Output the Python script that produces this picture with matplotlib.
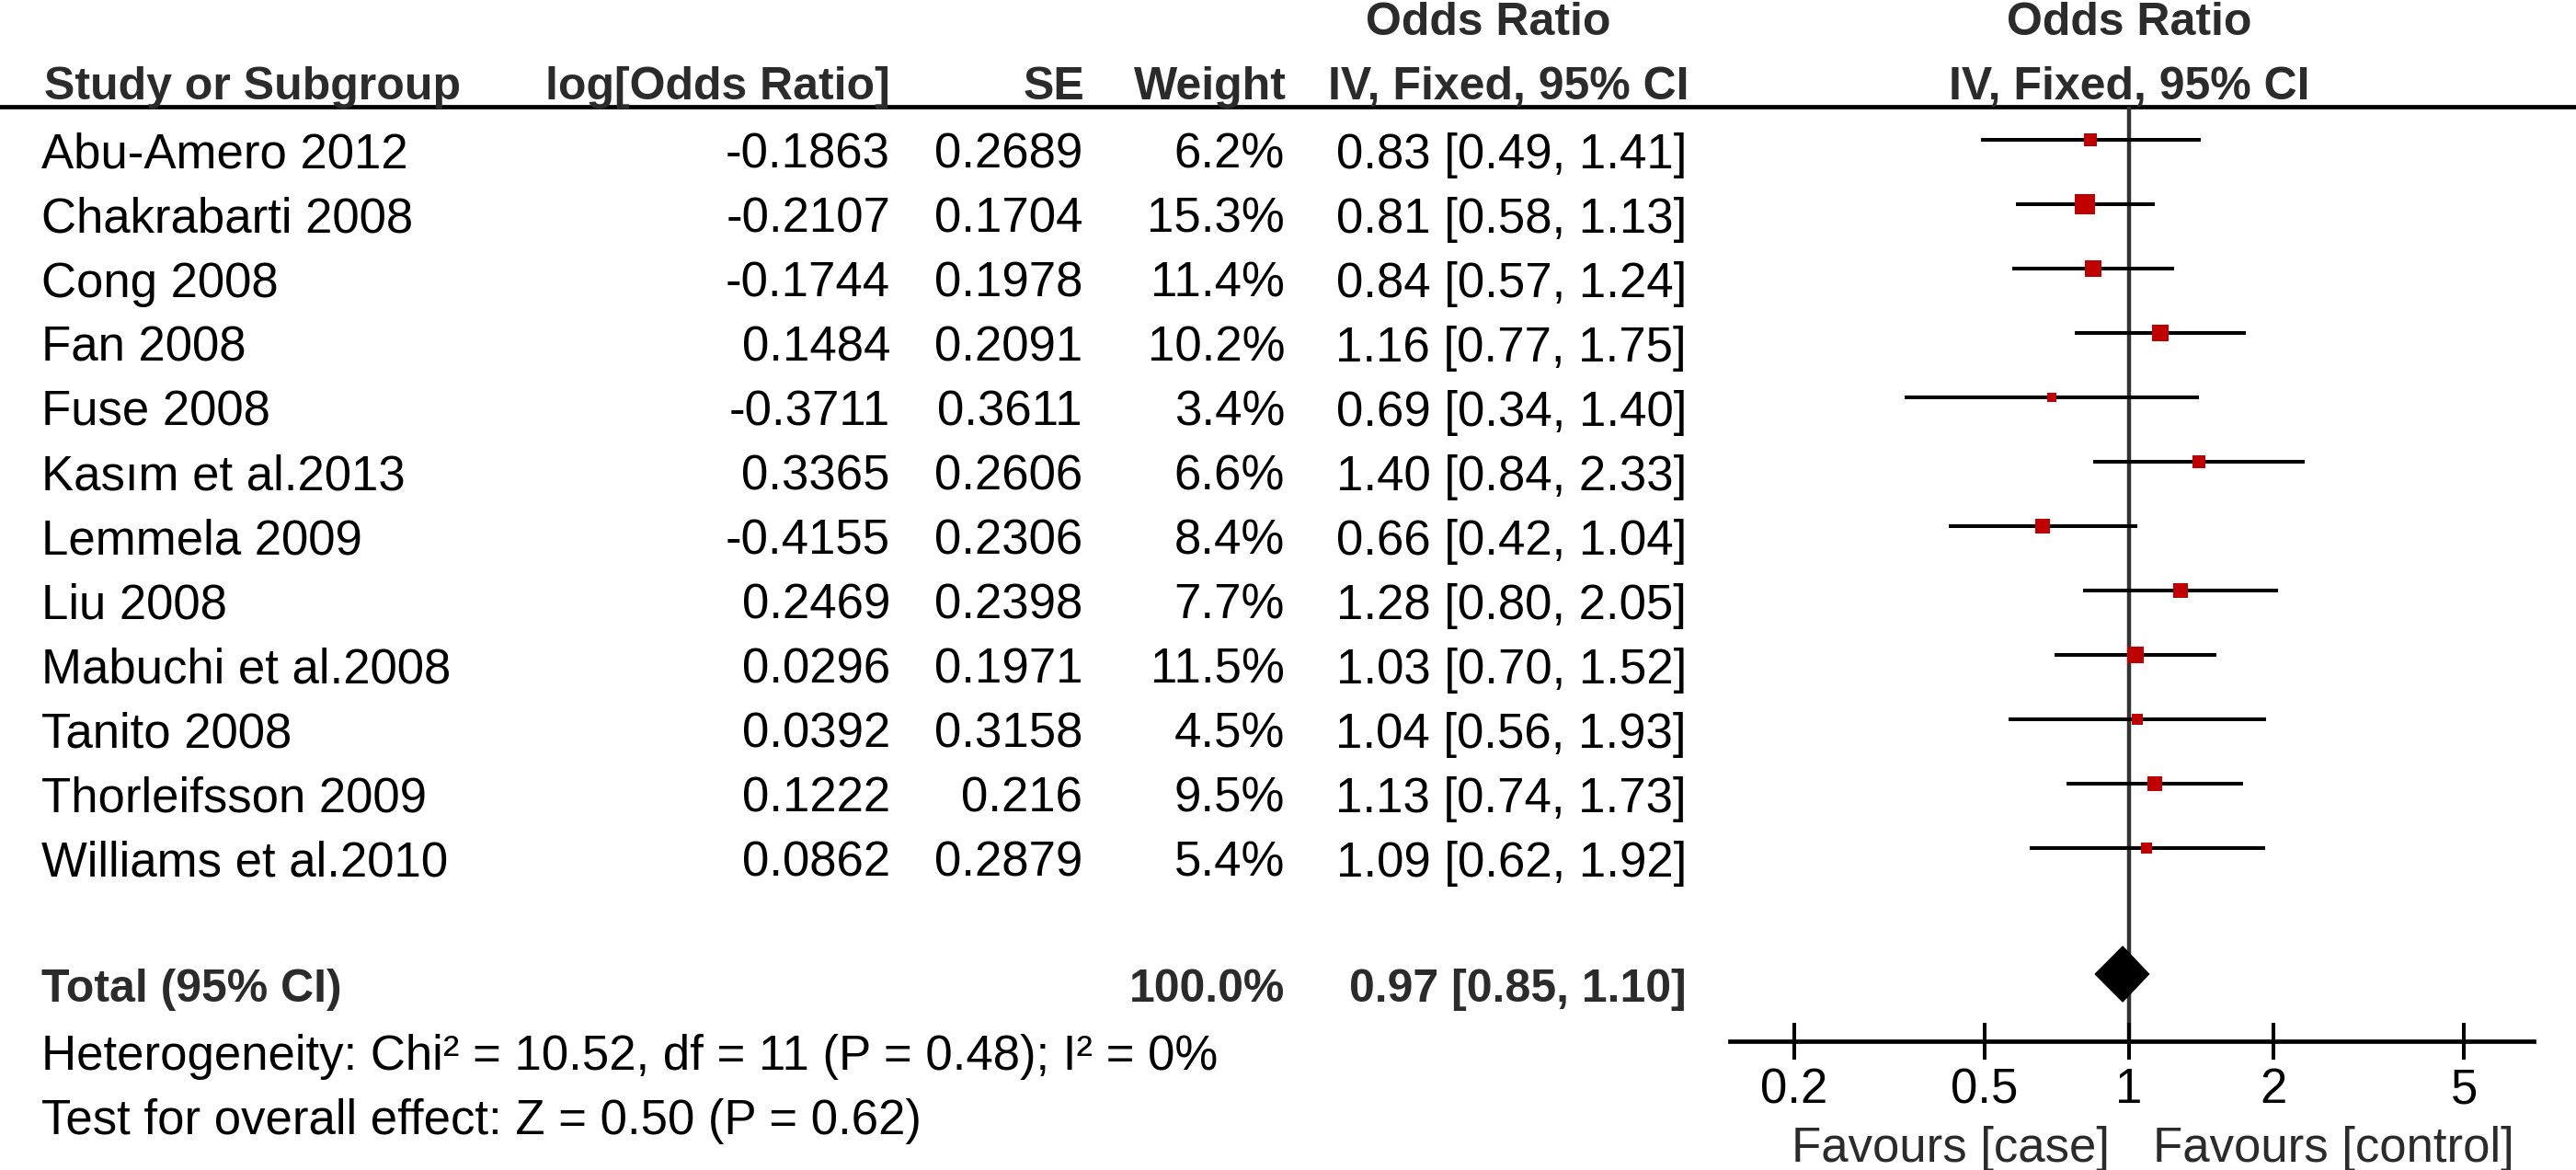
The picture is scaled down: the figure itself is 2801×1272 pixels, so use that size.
"""Forest plot: log odds ratios, fixed-effect (IV) meta-analysis, RevMan style."""
import matplotlib
matplotlib.use("Agg")
import matplotlib.pyplot as plt
import numpy as np

plt.rcParams["font.family"] = ["Liberation Sans", "DejaVu Sans"]

STUDIES = [
    "Abu-Amero 2012", "Chakrabarti 2008", "Cong 2008", "Fan 2008", "Fuse 2008",
    "Kasım et al.2013", "Lemmela 2009", "Liu 2008", "Mabuchi et al.2008",
    "Tanito 2008", "Thorleifsson 2009", "Williams et al.2010",
]
LOG_OR = [-0.1863, -0.2107, -0.1744, 0.1484, -0.3711, 0.3365, -0.4155, 0.2469,
          0.0296, 0.0392, 0.1222, 0.0862]
SE = [0.2689, 0.1704, 0.1978, 0.2091, 0.3611, 0.2606, 0.2306, 0.2398,
      0.1971, 0.3158, 0.216, 0.2879]
WEIGHT = [6.2, 15.3, 11.4, 10.2, 3.4, 6.6, 8.4, 7.7, 11.5, 4.5, 9.5, 5.4]
OR = [0.83, 0.81, 0.84, 1.16, 0.69, 1.40, 0.66, 1.28, 1.03, 1.04, 1.13, 1.09]
OR_LO = [0.49, 0.58, 0.57, 0.77, 0.34, 0.84, 0.42, 0.80, 0.70, 0.56, 0.74, 0.62]
OR_HI = [1.41, 1.13, 1.24, 1.75, 1.40, 2.33, 1.04, 2.05, 1.52, 1.93, 1.73, 1.92]

TOTAL_WEIGHT = 100.0
TOTAL_OR, TOTAL_LO, TOTAL_HI = 0.97, 0.85, 1.10
HETEROGENEITY = "Heterogeneity: Chi² = 10.52, df = 11 (P = 0.48); I² = 0%"
OVERALL = "Test for overall effect: Z = 0.50 (P = 0.62)"

TICKS = [0.2, 0.5, 1, 2, 5]
TICK_LABELS = ["0.2", "0.5", "1", "2", "5"]
FAV_LEFT, FAV_RIGHT = "Favours [case]", "Favours [control]"

W, H = 2801, 1272
PX = 72 / 100  # points per pixel at dpi 100
HEAD = "#2b2b2b"
RED = "#c00000"
FS, FSB = 38, 36

# layout (pixels)
ROW0, ROW_STEP = 151.7, 70.0
TOTAL_Y = 1059
AX_LEFT, AX_RIGHT, X_ONE, DECADE = 1881, 2755, 2315, 521
AXIS_Y = 1131.5


def main():
    fig = plt.figure(figsize=(W / 100, H / 100), dpi=100)
    ax = fig.add_axes([0, 0, 1, 1])
    ax.set_xlim(0, W)
    ax.set_ylim(H, 0)
    ax.axis("off")

    # headers
    hb = dict(fontsize=FSB, fontweight="bold", color=HEAD, va="baseline")
    ax.text(1618, 38, "Odds Ratio", ha="center", **hb)
    ax.text(X_ONE, 38, "Odds Ratio", ha="center", **hb)
    ax.text(48, 108, "Study or Subgroup", ha="left", **hb)
    ax.text(968, 108, "log[Odds Ratio]", ha="right", **hb)
    ax.text(1179, 108, "SE", ha="right", **hb)
    ax.text(1399, 108, "Weight", ha="right", **hb)
    ax.text(1836, 108, "IV, Fixed, 95% CI", ha="right", **hb)
    ax.text(X_ONE, 108, "IV, Fixed, 95% CI", ha="center", **hb)
    ax.axhline(116, color="black", lw=3.4)

    rows_y = ROW0 + ROW_STEP * np.arange(len(STUDIES))
    tr = dict(fontsize=FS, color="black", va="baseline")
    for i, y in enumerate(rows_y):
        b = y + 31
        ax.text(45, b, STUDIES[i], ha="left", **tr)
        ax.text(968, b, f"{LOG_OR[i]:g}", ha="right", **tr)
        ax.text(1177, b, f"{SE[i]:g}", ha="right", **tr)
        ax.text(1397, b, f"{WEIGHT[i]:.1f}%", ha="right", **tr)
        ax.text(1834, b, f"{OR[i]:.2f} [{OR_LO[i]:.2f}, {OR_HI[i]:.2f}]", ha="right", **tr)

    # total row
    ax.text(45, 1089, "Total (95% CI)", ha="left", **hb)
    ax.text(1397, 1089, f"{TOTAL_WEIGHT:.1f}%", ha="right", **hb)
    ax.text(1834, 1089, f"{TOTAL_OR:.2f} [{TOTAL_LO:.2f}, {TOTAL_HI:.2f}]", ha="right", **hb)
    ax.text(45, 1163, HETEROGENEITY, ha="left", **tr)
    ax.text(45, 1233, OVERALL, ha="left", **tr)

    # forest panel
    fx = fig.add_axes([AX_LEFT / W, 0, (AX_RIGHT - AX_LEFT) / W, 1])
    fx.patch.set_alpha(0)
    fx.set_xscale("log")
    fx.set_xlim(10 ** ((AX_LEFT - X_ONE) / DECADE), 10 ** ((AX_RIGHT - X_ONE) / DECADE))
    fx.set_ylim(H, 0)
    for s in ("top", "left", "right"):
        fx.spines[s].set_visible(False)
    fx.spines["bottom"].set_position(("data", AXIS_Y))
    fx.spines["bottom"].set_linewidth(3.4)
    fx.set_yticks([])
    fx.set_xticks(TICKS)
    fx.xaxis.set_minor_locator(matplotlib.ticker.NullLocator())
    fx.tick_params(axis="x", direction="inout", length=40 * PX, width=2.9,
                   labelbottom=False)
    for t, lab in zip(TICKS, TICK_LABELS):
        fx.text(t, 1199, lab, ha="center", va="baseline", fontsize=FS, color="black")
    fx.text(10 ** ((2294 - X_ONE) / DECADE), 1263, FAV_LEFT, ha="right", va="baseline",
            fontsize=FS, color=HEAD)
    fx.text(10 ** ((2341 - X_ONE) / DECADE), 1263, FAV_RIGHT, ha="left", va="baseline",
            fontsize=FS, color=HEAD)

    fx.vlines(1, 116, AXIS_Y, color="#333333", lw=3.2, zorder=1)
    fx.hlines(rows_y, OR_LO, OR_HI, color="black", lw=2.9, zorder=2)
    for i, y in enumerate(rows_y):
        side = 5.5 * np.sqrt(WEIGHT[i]) * PX
        fx.plot(OR[i], y, marker="s", ms=side, color=RED, mew=0, zorder=3)

    fx.fill([TOTAL_LO, TOTAL_OR, TOTAL_HI, TOTAL_OR],
            [TOTAL_Y, TOTAL_Y - 30, TOTAL_Y, TOTAL_Y + 30], color="black", zorder=3)

    fig.savefig("out.png", dpi=100)


if __name__ == "__main__":
    main()
